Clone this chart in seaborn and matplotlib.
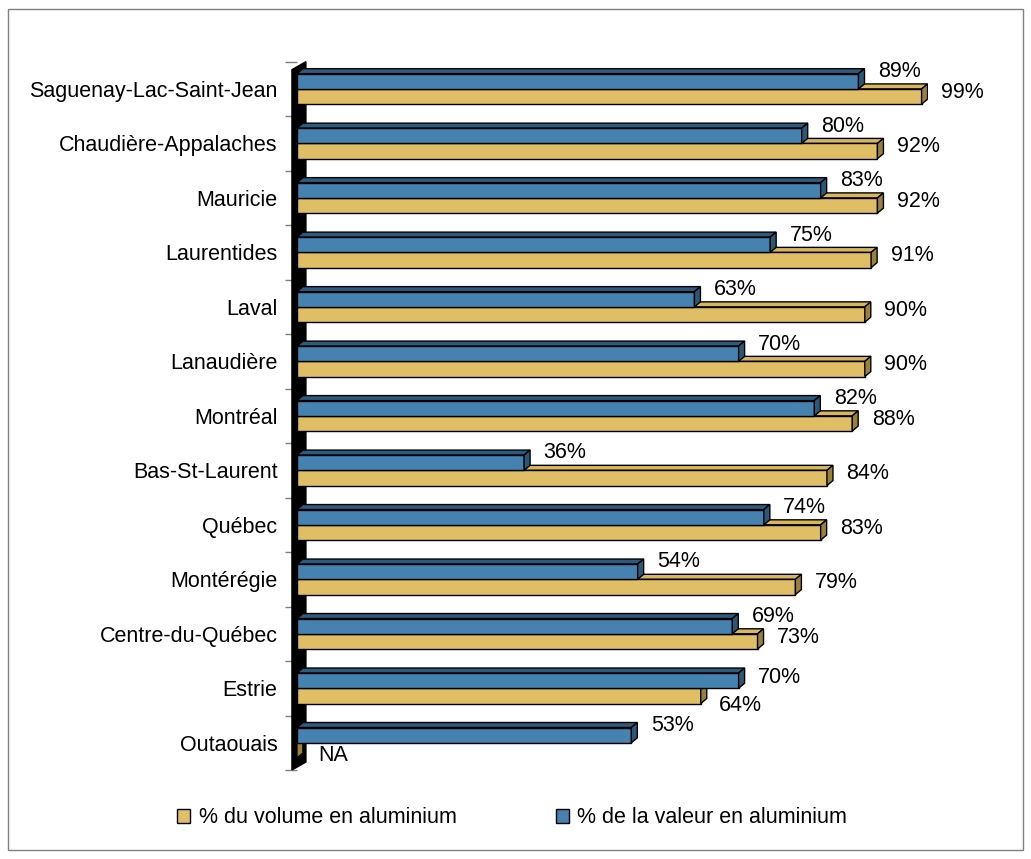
import numpy as np
import pandas as pd
import matplotlib.pyplot as plt
import seaborn as sns
from matplotlib.patches import Polygon, Patch, Rectangle

# Data
regions = ["Saguenay-Lac-Saint-Jean", "Chaudière-Appalaches", "Mauricie", "Laurentides",
           "Laval", "Lanaudière", "Montréal", "Bas-St-Laurent", "Québec", "Montérégie",
           "Centre-du-Québec", "Estrie", "Outaouais"]
valeur = [89, 80, 83, 75, 63, 70, 82, 36, 74, 54, 69, 70, 53]
volume = [99, 92, 92, 91, 90, 90, 88, 84, 83, 79, 73, 64, np.nan]
lab_volume = "% du volume en aluminium"
lab_valeur = "% de la valeur en aluminium"

c_valeur = "#4682B0"
c_volume = "#E0BE66"
side = {c_valeur: "#2C5878", c_volume: "#9A8038"}
top = {c_valeur: "#2E5A7E", c_volume: "#D8B660"}

df = pd.DataFrame({
    "region": regions * 2,
    "pct": valeur + volume,
    "serie": [lab_valeur] * len(regions) + [lab_volume] * len(regions),
})
df["plot_pct"] = df["pct"].fillna(0)

sns.set_style("white")
plt.rcParams["font.family"] = ["Liberation Sans", "DejaVu Sans"]
plt.rcParams["text.color"] = "black"
plt.rcParams["ytick.labelcolor"] = "black"
FS = 15.5

fig = plt.figure(figsize=(10.31, 8.59), dpi=100)
ax = fig.add_axes([0.288, 0.1036, 0.612, 0.8246])

sns.barplot(data=df, y="region", x="plot_pct", hue="serie", orient="h",
            order=regions, hue_order=[lab_valeur, lab_volume],
            palette={lab_valeur: c_valeur, lab_volume: c_volume}, saturation=1,
            width=0.56, edgecolor="black", linewidth=1, legend=False, ax=ax)

ax.set_xlim(0, 100)
ax.set_ylim(len(regions) - 0.5, -0.5)

# pixel -> data conversion for the 3D depth
bb = ax.get_window_extent()
px_x = 100 / bb.width
px_y = len(regions) / bb.height
dx, dy = 6 * px_x, 5 * px_y

bars = list(ax.patches)
for p in bars:
    x0, y0, w, h = p.get_x(), p.get_y(), p.get_width(), p.get_height()
    yc = y0 + h / 2
    upper = yc < round(yc)
    key = c_valeur if upper else c_volume
    z = 3 if upper else 2
    p.set_zorder(z + 0.5)
    x1 = x0 + w
    ax.add_patch(Polygon([(x0, y0), (x1, y0), (x1 + dx, y0 - dy), (x0 + dx, y0 - dy)],
                         closed=True, facecolor=top[key], edgecolor="black", lw=1, zorder=z))
    ax.add_patch(Polygon([(x1, y0), (x1 + dx, y0 - dy), (x1 + dx, y0 + h - dy), (x1, y0 + h)],
                         closed=True, facecolor=side[key], edgecolor="black", lw=1, zorder=z + 0.6))

# value labels
for i, r in enumerate(regions):
    crossed = volume[i] < valeur[i]
    for p in bars:
        yc = p.get_y() + p.get_height() / 2
        if abs(yc - i) > 0.5:
            continue
        upper = yc < i
        val = valeur[i] if upper else volume[i]
        if np.isnan(val):
            ax.annotate("NA", (0, yc), xytext=(15, -4), textcoords="offset points",
                        ha="left", va="center", fontsize=FS)
            continue
        if upper:
            off = (14, 2) if crossed else (14, 7)
        else:
            off = (13, -7) if crossed else (14, 3)
        ax.annotate(f"{val:.0f}%", (p.get_width(), yc), xytext=off,
                    textcoords="offset points", ha="left", va="center",
                    fontsize=FS, annotation_clip=False)

# black wall
top_y, bot_y = -0.5, len(regions) - 0.5
xa, xb = -5 * px_x, 9 * px_x
ax.add_patch(Polygon([(xa, bot_y), (xa, top_y + 8 * px_y), (xb, top_y),
                      (xb, bot_y - 8 * px_y)], closed=True, facecolor="black",
                     edgecolor="black", zorder=1, clip_on=False))

for s in ax.spines.values():
    s.set_visible(False)
ax.set_xticks([])
ax.set_xlabel("")
ax.set_ylabel("")
ax.set_yticks(range(len(regions)))
ax.set_yticklabels(regions, fontsize=FS, color="black")
ax.set_yticks(np.arange(-0.5, len(regions), 1), minor=True)
ax.tick_params(axis="y", which="major", length=0, pad=14)
ax.tick_params(axis="y", which="minor", length=9, width=1, color="#808080", left=True)

handles = [Patch(facecolor=c_volume, edgecolor="black", label=lab_volume),
           Patch(facecolor=c_valeur, edgecolor="black", label=lab_valeur)]
fig.legend(handles=handles, loc="center", bbox_to_anchor=(0.497, 0.048), ncol=2,
           frameon=False, fontsize=FS, handlelength=0.6, handleheight=0.6,
           handletextpad=0.4, columnspacing=4.6)

fig.add_artist(Rectangle((0.008, 0.01), 0.984, 0.98, transform=fig.transFigure,
                         fill=False, edgecolor="#808080", lw=1))

fig.savefig("out.png", dpi=100)
